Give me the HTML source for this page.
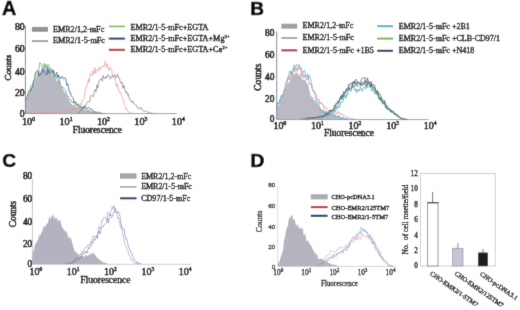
<!DOCTYPE html>
<html><head><meta charset="utf-8"><style>
html,body{margin:0;padding:0;background:#fff;width:520px;height:310px;overflow:hidden;}
svg{display:block;}
</style></head><body>
<svg width="520" height="310" viewBox="0 0 520 310">
<defs><filter id="bl" x="0" y="0" width="520" height="310" filterUnits="userSpaceOnUse"><feConvolveMatrix order="3" kernelMatrix="0.01 0.08 0.01 0.08 0.64 0.08 0.01 0.08 0.01" edgeMode="duplicate" preserveAlpha="false"/></filter></defs>
<g filter="url(#bl)">
<rect width="520" height="310" fill="#fff"/>
<text x="2.0" y="14.8" font-size="19.8" fill="#000" stroke="#000" stroke-width="0.55" font-weight="bold" font-family='"Liberation Sans", sans-serif'>A</text>
<path d="M25.4,103.1 L26.3,101.7 L27.2,98.9 L28.1,97.2 L29.0,94.6 L29.9,89.9 L30.8,87.7 L31.7,89.5 L32.6,83.0 L33.5,80.2 L34.4,83.6 L35.3,78.3 L36.2,78.2 L37.1,73.4 L38.0,73.0 L38.9,68.8 L39.8,71.3 L40.7,71.9 L41.6,68.4 L42.5,69.8 L43.4,69.1 L44.3,64.4 L45.2,69.5 L46.1,68.2 L47.0,66.5 L47.9,65.1 L48.8,72.1 L49.7,69.7 L50.6,72.1 L51.5,74.5 L52.4,74.7 L53.3,77.3 L54.2,74.4 L55.1,78.0 L56.0,76.7 L56.9,81.2 L57.8,82.1 L58.7,78.3 L59.6,79.4 L60.5,81.0 L61.4,87.6 L62.3,87.0 L63.2,90.4 L64.1,90.0 L65.0,92.4 L65.9,93.7 L66.8,95.5 L67.7,98.1 L68.6,98.9 L69.5,101.4 L70.4,101.9 L71.3,104.0 L72.2,104.4 L73.1,105.4 L74.0,105.1 L74.9,104.2 L75.8,107.0 L76.7,107.6 L77.6,107.6 L78.5,107.0 L79.4,107.8 L80.3,106.7 L81.2,108.7 L82.1,108.2 L83.0,107.7 L83.9,107.4 L84.8,109.8 L85.7,110.4 L86.6,108.7 L87.5,110.5 L88.4,109.9 L89.3,109.6 L90.2,110.3 L91.1,111.5 L92.0,112.0 L92.9,111.0 L93.8,112.1 L94.7,111.4 L95.6,112.5 L96.5,112.2 L97.4,113.0 L98.3,113.3 L99.2,112.9 L100.1,113.4 L101.0,112.9 L101.9,112.7 L102.8,113.2 L103.7,112.9 L104.6,113.1 L105.5,113.3 L106.4,113.5 L107.3,113.3 L108.2,113.4 L109.1,113.6 L110.0,113.6 L110.0,113.6 L25.4,113.6 Z" fill="#b9b9c3" stroke="none" opacity="1"/>
<path d="M25.4,101.9 L26.3,98.7 L27.2,96.6 L28.1,93.0 L29.0,90.7 L29.9,90.2 L30.8,91.0 L31.7,88.4 L32.6,86.7 L33.5,80.2 L34.4,79.4 L35.3,74.6 L36.2,72.3 L37.1,71.2 L38.0,71.2 L38.9,76.2 L39.8,74.8 L40.7,74.4 L41.6,74.1 L42.5,68.8 L43.4,69.5 L44.3,72.1 L45.2,73.2 L46.1,74.5 L47.0,74.9 L47.9,68.6 L48.8,73.0 L49.7,73.8 L50.6,72.7 L51.5,70.3 L52.4,72.8 L53.3,69.8 L54.2,76.9 L55.1,76.5 L56.0,74.1 L56.9,72.3 L57.8,77.3 L58.7,75.0 L59.6,78.2 L60.5,78.7 L61.4,76.8 L62.3,76.5 L63.2,78.8 L64.1,78.6 L65.0,77.7 L65.9,79.5 L66.8,85.4 L67.7,83.8 L68.6,87.3 L69.5,92.5 L70.4,92.5 L71.3,96.1 L72.2,97.0 L73.1,97.8 L74.0,102.8 L74.9,101.1 L75.8,103.5 L76.7,103.1 L77.6,105.2 L78.5,104.4 L79.4,105.2 L80.3,107.2 L81.2,106.1 L82.1,107.2 L83.0,108.4 L83.9,106.0 L84.8,106.1 L85.7,106.8 L86.6,108.6 L87.5,108.3 L88.4,107.3 L89.3,108.1 L90.2,108.3 L91.1,109.6 L92.0,108.9 L92.9,110.7 L93.8,111.5 L94.7,112.0 L95.6,112.0 L96.5,112.7 L97.4,111.7 L98.3,112.2 L99.2,113.2 L100.1,113.1 L101.0,112.9 L101.9,113.5 L102.8,113.4 L103.7,113.6 L104.6,113.5 L105.0,113.6" fill="none" stroke="#3d4f9a" stroke-width="0.8" stroke-linejoin="round" opacity="1"/>
<path d="M25.4,101.5 L26.3,100.2 L27.2,97.9 L28.1,97.0 L29.0,94.4 L29.9,93.0 L30.8,85.6 L31.7,86.2 L32.6,87.4 L33.5,82.8 L34.4,81.1 L35.3,72.8 L36.2,73.6 L37.1,70.4 L38.0,70.3 L38.9,68.4 L39.8,62.5 L40.7,63.7 L41.6,64.1 L42.5,68.9 L43.4,67.6 L44.3,63.0 L45.2,68.4 L46.1,64.1 L47.0,68.4 L47.9,65.1 L48.8,64.7 L49.7,72.0 L50.6,67.9 L51.5,68.7 L52.4,74.7 L53.3,74.5 L54.2,71.1 L55.1,76.4 L56.0,75.0 L56.9,78.2 L57.8,76.8 L58.7,82.7 L59.6,82.6 L60.5,86.2 L61.4,87.8 L62.3,86.3 L63.2,88.3 L64.1,88.3 L65.0,89.3 L65.9,90.5 L66.8,93.6 L67.7,97.0 L68.6,96.0 L69.5,100.2 L70.4,99.5 L71.3,100.1 L72.2,102.9 L73.1,102.5 L74.0,102.9 L74.9,104.3 L75.8,105.6 L76.7,103.8 L77.6,107.1 L78.5,104.6 L79.4,107.4 L80.3,108.2 L81.2,106.4 L82.1,109.0 L83.0,108.3 L83.9,109.2 L84.8,108.0 L85.7,108.4 L86.6,109.2 L87.5,111.2 L88.4,110.1 L89.3,111.6 L90.2,112.2 L91.1,112.5 L92.0,111.8 L92.9,111.9 L93.8,112.3 L94.7,112.8 L95.6,112.2 L96.5,113.1 L97.4,113.3 L98.3,113.4 L99.2,113.0 L100.0,113.6" fill="none" stroke="#6fae7a" stroke-width="0.8" stroke-linejoin="round" opacity="1"/>
<path d="M25.4,113.4 L26.3,113.5 L27.2,113.2 L28.1,112.9 L29.0,112.7 L29.9,113.3 L30.8,113.1 L31.7,113.3 L32.6,112.9 L33.5,113.3 L34.4,112.8 L35.3,113.3 L36.2,113.2 L37.1,112.9 L38.0,113.0 L38.9,113.1 L39.8,112.5 L40.7,112.9 L41.6,113.1 L42.5,112.5 L43.4,113.1 L44.3,112.9 L45.2,113.1 L46.1,112.5 L47.0,112.1 L47.9,113.0 L48.8,112.9 L49.7,112.4 L50.6,111.8 L51.5,111.9 L52.4,112.5 L53.3,112.0 L54.2,112.9 L55.1,112.3 L56.0,111.7 L56.9,112.3 L57.8,111.7 L58.7,112.6 L59.6,112.5 L60.5,111.8 L61.4,111.8 L62.3,111.7 L63.2,111.7 L64.1,111.9 L65.0,109.6 L65.9,110.2 L66.8,110.7 L67.7,109.9 L68.6,110.4 L69.5,109.1 L70.4,110.9 L71.3,109.9 L72.2,108.8 L73.1,110.0 L74.0,108.9 L74.9,108.4 L75.8,108.9 L76.7,107.7 L77.6,107.7 L78.5,109.2 L79.4,107.4 L80.3,103.4 L81.2,104.9 L82.1,100.8 L83.0,99.4 L83.9,98.6 L84.8,93.2 L85.7,88.4 L86.6,87.0 L87.5,84.1 L88.4,78.8 L89.3,82.3 L90.2,73.3 L91.1,74.8 L92.0,75.5 L92.9,70.7 L93.8,74.3 L94.7,67.5 L95.6,73.2 L96.5,71.7 L97.4,69.2 L98.3,70.8 L99.2,66.7 L100.1,69.6 L101.0,68.9 L101.9,66.2 L102.8,65.4 L103.7,67.0 L104.6,63.8 L105.5,61.0 L106.4,67.6 L107.3,64.1 L108.2,66.6 L109.1,70.8 L110.0,67.6 L110.9,67.9 L111.8,70.2 L112.7,76.2 L113.6,76.4 L114.5,77.0 L115.4,80.8 L116.3,86.7 L117.2,83.6 L118.1,86.7 L119.0,92.3 L119.9,92.5 L120.8,92.2 L121.7,96.0 L122.6,98.3 L123.5,99.8 L124.4,104.7 L125.3,106.0 L126.2,109.4 L127.1,109.2 L128.0,111.1 L128.9,112.9 L129.8,113.4 L130.7,113.0 L131.6,113.3 L132.5,113.3 L133.4,113.5 L134.0,113.6" fill="none" stroke="#f09090" stroke-width="0.7" stroke-linejoin="round" opacity="1"/>
<path d="M78.0,112.8 L78.9,112.0 L79.8,112.0 L80.7,109.9 L81.6,110.0 L82.5,108.6 L83.4,107.0 L84.3,107.8 L85.2,105.2 L86.1,105.1 L87.0,102.3 L87.9,101.4 L88.8,101.6 L89.7,101.7 L90.6,96.3 L91.5,95.1 L92.4,96.3 L93.3,96.6 L94.2,92.5 L95.1,89.6 L96.0,92.0 L96.9,84.8 L97.8,88.4 L98.7,82.5 L99.6,79.9 L100.5,78.8 L101.4,78.8 L102.3,81.1 L103.2,75.5 L104.1,78.5 L105.0,78.7 L105.9,76.5 L106.8,78.1 L107.7,74.8 L108.6,75.1 L109.5,76.1 L110.4,79.2 L111.3,76.7 L112.2,75.5 L113.1,77.3 L114.0,75.9 L114.9,74.3 L115.8,77.9 L116.7,77.3 L117.6,74.3 L118.5,77.4 L119.4,77.7 L120.3,82.2 L121.2,83.4 L122.1,82.0 L123.0,88.3 L123.9,85.1 L124.8,89.3 L125.7,92.7 L126.6,91.3 L127.5,95.2 L128.4,93.8 L129.3,98.3 L130.2,100.2 L131.1,100.4 L132.0,102.5 L132.9,100.9 L133.8,103.6 L134.7,104.1 L135.6,104.7 L136.5,105.1 L137.4,107.6 L138.3,108.8 L139.2,107.8 L140.1,108.7 L141.0,107.5 L141.9,109.8 L142.8,110.2 L143.7,111.4 L144.6,111.3 L145.5,110.5 L146.4,111.2 L147.3,112.2 L148.2,111.9 L149.1,112.9 L150.0,113.1 L150.9,113.1 L151.8,113.1 L152.7,113.6 L153.6,113.3 L154.5,113.5 L155.4,113.6 L156.0,113.6" fill="none" stroke="#747482" stroke-width="0.7" stroke-linejoin="round" opacity="1"/>
<line x1="25.4" y1="25.8" x2="25.4" y2="113.6" stroke="#666" stroke-width="0.8" />
<line x1="25.4" y1="113.6" x2="176.5" y2="113.6" stroke="#888" stroke-width="0.8" />
<text x="24.5" y="29.663999999999998" font-size="9.6" text-anchor="end" fill="#000" stroke="#000" stroke-width="0.62" font-family='"Liberation Serif", serif'>80</text>
<text x="24.5" y="52.264" font-size="9.6" text-anchor="end" fill="#000" stroke="#000" stroke-width="0.62" font-family='"Liberation Serif", serif'>60</text>
<text x="24.5" y="74.664" font-size="9.6" text-anchor="end" fill="#000" stroke="#000" stroke-width="0.62" font-family='"Liberation Serif", serif'>40</text>
<text x="24.5" y="96.264" font-size="9.6" text-anchor="end" fill="#000" stroke="#000" stroke-width="0.62" font-family='"Liberation Serif", serif'>20</text>
<text x="24.5" y="116.964" font-size="9.6" text-anchor="end" fill="#000" stroke="#000" stroke-width="0.62" font-family='"Liberation Serif", serif'>0</text>
<text x="22.0" y="124.6" font-size="10.2" fill="#000" stroke="#000" stroke-width="0.55" font-family='"Liberation Serif", serif'>10<tspan font-size="5.6" dy="-3.9">0</tspan></text>
<text x="59.45" y="124.6" font-size="10.2" fill="#000" stroke="#000" stroke-width="0.55" font-family='"Liberation Serif", serif'>10<tspan font-size="5.6" dy="-3.9">1</tspan></text>
<text x="96.9" y="124.6" font-size="10.2" fill="#000" stroke="#000" stroke-width="0.55" font-family='"Liberation Serif", serif'>10<tspan font-size="5.6" dy="-3.9">2</tspan></text>
<text x="134.35000000000002" y="124.6" font-size="10.2" fill="#000" stroke="#000" stroke-width="0.55" font-family='"Liberation Serif", serif'>10<tspan font-size="5.6" dy="-3.9">3</tspan></text>
<text x="171.8" y="124.6" font-size="10.2" fill="#000" stroke="#000" stroke-width="0.55" font-family='"Liberation Serif", serif'>10<tspan font-size="5.6" dy="-3.9">4</tspan></text>
<text x="97.3" y="132.8" font-size="9.3" text-anchor="middle" fill="#000" stroke="#000" stroke-width="0.50" font-family='"Liberation Serif", serif'>Fluorescence</text>
<text x="0" y="0" font-size="9.2" text-anchor="middle" fill="#000" stroke="#000" stroke-width="0.55" font-family='"Liberation Serif", serif' transform="translate(11.2,67.6) rotate(-90)">Counts</text>
<rect x="31.90" y="26.90" width="16.10" height="4.90" fill="#939399" stroke="none" stroke-width="0"/>
<line x1="31.9" y1="41.1" x2="48" y2="41.1" stroke="#8c8c90" stroke-width="1.6" />
<text x="53" y="31.9" font-size="8.15" fill="#000" stroke="#000" stroke-width="0.37" font-family='"Liberation Serif", serif'>EMR2/1,2-mFc</text>
<text x="53" y="43.3" font-size="8.15" fill="#000" stroke="#000" stroke-width="0.37" font-family='"Liberation Serif", serif'>EMR2/1-5-mFc</text>
<line x1="108.8" y1="26.4" x2="125" y2="26.4" stroke="#72bb46" stroke-width="1.6" />
<line x1="108.8" y1="38.6" x2="125" y2="38.6" stroke="#1b3876" stroke-width="2" />
<line x1="108.8" y1="49.8" x2="125" y2="49.8" stroke="#c81e34" stroke-width="2" />
<text x="130.4" y="29.5" font-size="8.2" fill="#000" stroke="#000" stroke-width="0.37" font-family='"Liberation Serif", serif'>EMR2/1-5-mFc+EGTA</text>
<text x="130.4" y="41" font-size="8.2" fill="#000" stroke="#000" stroke-width="0.37" font-family='"Liberation Serif", serif'>EMR2/1-5-mFc+EGTA+Mg<tspan font-size="5" dy="-3">2+</tspan></text>
<text x="130.4" y="52.3" font-size="8.2" fill="#000" stroke="#000" stroke-width="0.37" font-family='"Liberation Serif", serif'>EMR2/1-5-mFc+EGTA+Ca<tspan font-size="5" dy="-3">2+</tspan></text>
<text x="250.3" y="15.2" font-size="19.0" fill="#000" stroke="#000" stroke-width="0.55" font-weight="bold" font-family='"Liberation Sans", sans-serif'>B</text>
<path d="M276.7,106.0 L277.6,106.7 L278.5,105.4 L279.4,105.0 L280.3,99.7 L281.2,98.4 L282.1,95.6 L283.0,93.4 L283.9,94.7 L284.8,88.6 L285.7,88.7 L286.6,85.2 L287.5,83.5 L288.4,81.9 L289.3,82.8 L290.2,79.8 L291.1,73.0 L292.0,72.6 L292.9,70.6 L293.8,75.4 L294.7,73.9 L295.6,73.0 L296.5,72.5 L297.4,72.4 L298.3,75.2 L299.2,75.2 L300.1,72.0 L301.0,78.0 L301.9,77.2 L302.8,80.4 L303.7,79.8 L304.6,79.8 L305.5,80.2 L306.4,82.5 L307.3,83.8 L308.2,84.1 L309.1,90.1 L310.0,92.6 L310.9,96.4 L311.8,96.4 L312.7,97.2 L313.6,100.5 L314.5,99.5 L315.4,103.0 L316.3,103.1 L317.2,103.3 L318.1,104.5 L319.0,106.5 L319.9,106.5 L320.8,108.4 L321.7,109.7 L322.6,109.3 L323.5,108.9 L324.4,110.7 L325.3,110.5 L326.2,111.0 L327.1,111.1 L328.0,111.9 L328.9,111.4 L329.8,113.4 L330.7,114.6 L331.6,113.3 L332.5,114.3 L333.4,115.1 L334.3,113.0 L335.2,113.5 L336.1,115.5 L337.0,115.8 L337.9,115.5 L338.8,114.6 L339.7,115.4 L340.6,116.7 L341.5,117.1 L342.4,117.3 L343.3,116.7 L344.2,118.1 L345.1,117.6 L346.0,118.2 L346.9,117.6 L347.8,118.9 L348.7,118.7 L349.6,119.0 L350.5,118.8 L351.4,119.3 L352.3,119.4 L353.2,119.4 L354.1,119.4 L355.0,119.6 L355.9,119.6 L356.0,119.6 L356.0,119.6 L276.7,119.6 Z" fill="#bbbac4" stroke="none" opacity="1"/>
<path d="M276.7,104.4 L277.6,105.4 L278.5,103.4 L279.4,103.6 L280.3,98.4 L281.2,96.0 L282.1,97.1 L283.0,94.6 L283.9,89.5 L284.8,89.5 L285.7,85.7 L286.6,85.0 L287.5,77.4 L288.4,76.6 L289.3,80.0 L290.2,74.0 L291.1,71.4 L292.0,74.4 L292.9,72.7 L293.8,68.6 L294.7,71.2 L295.6,71.7 L296.5,67.4 L297.4,71.4 L298.3,67.5 L299.2,69.5 L300.1,67.8 L301.0,69.6 L301.9,76.7 L302.8,73.2 L303.7,78.1 L304.6,74.9 L305.5,77.2 L306.4,79.9 L307.3,79.3 L308.2,76.7 L309.1,82.2 L310.0,84.7 L310.9,83.6 L311.8,84.3 L312.7,90.9 L313.6,90.9 L314.5,91.0 L315.4,93.7 L316.3,94.3 L317.2,99.6 L318.1,99.8 L319.0,98.9 L319.9,103.8 L320.8,102.2 L321.7,104.2 L322.6,103.7 L323.5,107.4 L324.4,105.9 L325.3,108.4 L326.2,107.6 L327.1,109.4 L328.0,110.4 L328.9,110.2 L329.8,110.3 L330.7,110.7 L331.6,110.8 L332.5,111.4 L333.4,110.0 L334.3,111.5 L335.2,111.1 L336.1,113.3 L337.0,113.8 L337.9,111.4 L338.8,111.8 L339.7,113.8 L340.6,114.0 L341.5,113.1 L342.4,115.1 L343.3,116.1 L344.2,115.4 L345.1,115.8 L346.0,116.8 L346.9,117.8 L347.8,116.8 L348.7,117.3 L349.6,117.6 L350.5,118.6 L351.4,118.8 L352.3,118.8 L353.2,119.1 L354.1,119.0 L355.0,119.4 L355.9,119.6 L356.0,119.6" fill="none" stroke="#e58a8a" stroke-width="0.8" stroke-linejoin="round" opacity="1"/>
<path d="M276.7,107.9 L277.6,102.4 L278.5,104.1 L279.4,99.7 L280.3,101.6 L281.2,95.2 L282.1,97.4 L283.0,93.4 L283.9,92.3 L284.8,91.2 L285.7,83.0 L286.6,80.7 L287.5,81.5 L288.4,75.7 L289.3,72.7 L290.2,70.7 L291.1,74.0 L292.0,72.1 L292.9,70.0 L293.8,64.9 L294.7,69.9 L295.6,66.1 L296.5,64.1 L297.4,66.4 L298.3,66.6 L299.2,64.2 L300.1,68.5 L301.0,67.4 L301.9,69.6 L302.8,72.8 L303.7,71.1 L304.6,70.3 L305.5,74.9 L306.4,76.9 L307.3,73.8 L308.2,79.2 L309.1,74.9 L310.0,77.5 L310.9,79.9 L311.8,88.2 L312.7,89.7 L313.6,91.7 L314.5,92.2 L315.4,97.5 L316.3,102.8 L317.2,100.7 L318.1,102.9 L319.0,105.1 L319.9,108.4 L320.8,110.6 L321.7,110.8 L322.6,111.6 L323.5,112.8 L324.4,112.1 L325.3,114.6 L326.2,113.3 L327.1,113.4 L328.0,113.9 L328.9,115.4 L329.8,114.3 L330.7,116.1 L331.6,115.1 L332.5,115.7 L333.4,115.2 L334.3,117.2 L335.2,117.1 L336.1,116.7 L337.0,116.3 L337.9,117.3 L338.8,117.4 L339.7,118.4 L340.6,118.8 L341.5,118.7 L342.4,118.3 L343.3,118.1 L344.2,119.2 L345.1,119.3 L346.0,118.8 L346.9,119.2 L347.8,119.3 L348.7,119.6 L349.6,119.5 L350.0,119.6" fill="none" stroke="#5cb6d3" stroke-width="0.8" stroke-linejoin="round" opacity="1"/>
<path d="M300.0,119.3 L300.9,119.3 L301.8,119.2 L302.7,119.0 L303.6,118.9 L304.5,118.9 L305.4,118.4 L306.3,118.6 L307.2,117.7 L308.1,117.9 L309.0,117.9 L309.9,117.5 L310.8,118.3 L311.7,117.6 L312.6,118.3 L313.5,118.4 L314.4,117.3 L315.3,118.2 L316.2,118.0 L317.1,117.7 L318.0,116.5 L318.9,117.1 L319.8,117.3 L320.7,116.7 L321.6,116.5 L322.5,116.3 L323.4,115.6 L324.3,116.1 L325.2,114.5 L326.1,114.3 L327.0,114.4 L327.9,114.6 L328.8,111.9 L329.7,110.2 L330.6,112.5 L331.5,111.6 L332.4,110.8 L333.3,108.7 L334.2,106.2 L335.1,104.3 L336.0,103.6 L336.9,103.4 L337.8,100.7 L338.7,102.4 L339.6,101.0 L340.5,95.9 L341.4,99.0 L342.3,96.4 L343.2,97.5 L344.1,93.3 L345.0,93.4 L345.9,89.9 L346.8,89.9 L347.7,88.4 L348.6,84.3 L349.5,84.0 L350.4,83.9 L351.3,83.9 L352.2,82.2 L353.1,82.2 L354.0,82.6 L354.9,80.3 L355.8,79.2 L356.7,80.1 L357.6,83.5 L358.5,82.9 L359.4,82.5 L360.3,83.9 L361.2,79.6 L362.1,78.4 L363.0,78.1 L363.9,78.2 L364.8,77.1 L365.7,81.1 L366.6,83.0 L367.5,77.7 L368.4,82.5 L369.3,85.1 L370.2,84.4 L371.1,81.2 L372.0,85.8 L372.9,84.6 L373.8,84.9 L374.7,85.2 L375.6,90.1 L376.5,93.9 L377.4,90.0 L378.3,91.7 L379.2,94.8 L380.1,94.2 L381.0,97.4 L381.9,100.4 L382.8,100.7 L383.7,99.8 L384.6,101.1 L385.5,103.7 L386.4,107.2 L387.3,108.9 L388.2,108.3 L389.1,108.0 L390.0,109.3 L390.9,110.5 L391.8,110.3 L392.7,111.2 L393.6,112.6 L394.5,114.4 L395.4,113.6 L396.3,116.0 L397.2,116.3 L398.1,116.0 L399.0,116.5 L399.9,117.2 L400.8,118.2 L401.7,118.7 L402.6,119.1 L403.5,118.7 L404.4,119.0 L405.3,118.9 L406.2,119.3 L407.1,119.4 L408.0,119.6 L408.0,119.6" fill="none" stroke="#5d6470" stroke-width="0.8" stroke-linejoin="round" opacity="1"/>
<path d="M318.0,119.4 L318.9,119.4 L319.8,119.3 L320.7,118.3 L321.6,118.5 L322.5,118.1 L323.4,117.7 L324.3,116.5 L325.2,116.1 L326.1,116.3 L327.0,116.6 L327.9,114.9 L328.8,114.8 L329.7,113.7 L330.6,114.5 L331.5,114.4 L332.4,112.5 L333.3,113.6 L334.2,109.8 L335.1,111.3 L336.0,110.5 L336.9,106.8 L337.8,108.2 L338.7,107.0 L339.6,107.4 L340.5,102.2 L341.4,101.9 L342.3,102.6 L343.2,100.3 L344.1,97.2 L345.0,94.8 L345.9,98.4 L346.8,94.0 L347.7,94.8 L348.6,87.7 L349.5,90.5 L350.4,90.5 L351.3,91.1 L352.2,85.5 L353.1,87.7 L354.0,85.9 L354.9,90.7 L355.8,88.8 L356.7,92.9 L357.6,89.0 L358.5,91.0 L359.4,91.0 L360.3,86.9 L361.2,88.9 L362.1,91.4 L363.0,88.7 L363.9,87.5 L364.8,86.4 L365.7,89.1 L366.6,84.9 L367.5,87.5 L368.4,87.2 L369.3,87.1 L370.2,84.4 L371.1,88.5 L372.0,91.2 L372.9,88.5 L373.8,89.3 L374.7,94.0 L375.6,93.8 L376.5,93.5 L377.4,93.0 L378.3,98.5 L379.2,98.0 L380.1,99.9 L381.0,99.7 L381.9,102.6 L382.8,104.2 L383.7,102.9 L384.6,102.8 L385.5,107.8 L386.4,108.3 L387.3,105.4 L388.2,108.5 L389.1,110.1 L390.0,109.9 L390.9,111.5 L391.8,113.0 L392.7,112.6 L393.6,112.5 L394.5,112.6 L395.4,113.7 L396.3,114.2 L397.2,114.6 L398.1,115.6 L399.0,117.6 L399.9,117.7 L400.8,118.4 L401.7,118.8 L402.6,119.0 L403.5,118.6 L404.4,119.4 L405.3,118.9 L406.2,119.5 L407.1,119.6 L408.0,119.6 L408.0,119.6" fill="none" stroke="#4aa9c4" stroke-width="0.8" stroke-linejoin="round" opacity="1"/>
<path d="M318.0,119.2 L318.9,119.3 L319.8,118.6 L320.7,118.0 L321.6,117.9 L322.5,117.4 L323.4,117.0 L324.3,116.6 L325.2,116.0 L326.1,115.5 L327.0,115.9 L327.9,114.3 L328.8,114.5 L329.7,114.1 L330.6,113.7 L331.5,113.5 L332.4,110.9 L333.3,109.9 L334.2,110.3 L335.1,108.4 L336.0,105.7 L336.9,106.8 L337.8,106.6 L338.7,104.7 L339.6,99.8 L340.5,98.6 L341.4,96.1 L342.3,99.8 L343.2,94.1 L344.1,95.3 L345.0,93.2 L345.9,92.7 L346.8,91.0 L347.7,91.4 L348.6,88.9 L349.5,86.5 L350.4,84.6 L351.3,86.1 L352.2,88.2 L353.1,82.7 L354.0,86.4 L354.9,86.3 L355.8,83.5 L356.7,84.1 L357.6,87.1 L358.5,85.2 L359.4,84.8 L360.3,85.0 L361.2,82.3 L362.1,86.1 L363.0,85.1 L363.9,84.5 L364.8,83.0 L365.7,86.2 L366.6,86.5 L367.5,85.0 L368.4,82.2 L369.3,82.8 L370.2,83.5 L371.1,83.9 L372.0,88.3 L372.9,88.2 L373.8,86.9 L374.7,92.5 L375.6,92.2 L376.5,94.3 L377.4,95.3 L378.3,96.0 L379.2,97.0 L380.1,100.8 L381.0,97.4 L381.9,101.6 L382.8,103.9 L383.7,102.8 L384.6,105.4 L385.5,104.1 L386.4,106.2 L387.3,106.4 L388.2,107.9 L389.1,110.1 L390.0,109.0 L390.9,110.2 L391.8,112.6 L392.7,111.7 L393.6,111.8 L394.5,114.8 L395.4,114.4 L396.3,113.9 L397.2,115.7 L398.1,115.4 L399.0,116.4 L399.9,118.0 L400.8,118.2 L401.7,118.2 L402.6,118.7 L403.5,119.0 L404.4,119.0 L405.3,118.9 L406.2,119.5 L407.1,119.6 L408.0,119.6 L408.0,119.6" fill="none" stroke="#74ad83" stroke-width="0.8" stroke-linejoin="round" opacity="1"/>
<path d="M305.0,119.3 L305.9,119.4 L306.8,119.1 L307.7,118.9 L308.6,118.7 L309.5,119.2 L310.4,118.3 L311.3,118.0 L312.2,118.0 L313.1,117.8 L314.0,117.8 L314.9,117.7 L315.8,117.3 L316.7,117.4 L317.6,117.2 L318.5,117.4 L319.4,116.5 L320.3,116.0 L321.2,116.0 L322.1,116.6 L323.0,115.9 L323.9,116.1 L324.8,115.6 L325.7,114.0 L326.6,112.5 L327.5,113.8 L328.4,113.6 L329.3,111.9 L330.2,111.9 L331.1,109.7 L332.0,110.9 L332.9,109.9 L333.8,109.2 L334.7,109.1 L335.6,105.0 L336.5,104.7 L337.4,104.0 L338.3,103.1 L339.2,100.3 L340.1,98.0 L341.0,99.0 L341.9,94.7 L342.8,96.4 L343.7,91.5 L344.6,93.2 L345.5,92.2 L346.4,88.6 L347.3,89.5 L348.2,88.9 L349.1,87.3 L350.0,89.5 L350.9,88.3 L351.8,87.7 L352.7,83.2 L353.6,81.5 L354.5,83.5 L355.4,81.5 L356.3,85.4 L357.2,82.5 L358.1,81.8 L359.0,83.0 L359.9,83.9 L360.8,85.9 L361.7,83.8 L362.6,82.5 L363.5,84.8 L364.4,80.5 L365.3,81.7 L366.2,85.0 L367.1,85.6 L368.0,81.3 L368.9,81.6 L369.8,85.3 L370.7,87.2 L371.6,83.7 L372.5,87.0 L373.4,87.2 L374.3,87.5 L375.2,89.3 L376.1,90.8 L377.0,92.9 L377.9,92.4 L378.8,96.8 L379.7,99.3 L380.6,99.1 L381.5,97.4 L382.4,101.9 L383.3,103.0 L384.2,101.0 L385.1,104.1 L386.0,106.7 L386.9,108.7 L387.8,109.4 L388.7,109.2 L389.6,110.3 L390.5,112.0 L391.4,110.2 L392.3,112.0 L393.2,111.4 L394.1,113.9 L395.0,114.3 L395.9,114.0 L396.8,114.6 L397.7,115.9 L398.6,117.1 L399.5,116.8 L400.4,117.6 L401.3,118.2 L402.2,118.3 L403.1,119.2 L404.0,119.2 L404.9,119.5 L405.8,119.4 L406.7,119.5 L407.6,119.5 L408.0,119.6" fill="none" stroke="#2c4a70" stroke-width="0.7" stroke-linejoin="round" opacity="1"/>
<line x1="276.7" y1="31.4" x2="276.7" y2="119.6" stroke="#667" stroke-width="0.8" />
<line x1="276.7" y1="119.6" x2="428.5" y2="119.6" stroke="#888" stroke-width="0.8" />
<text x="274.4" y="36.162" font-size="9.3" text-anchor="end" fill="#000" stroke="#000" stroke-width="0.62" font-family='"Liberation Serif", serif'>80</text>
<text x="274.4" y="57.862" font-size="9.3" text-anchor="end" fill="#000" stroke="#000" stroke-width="0.62" font-family='"Liberation Serif", serif'>60</text>
<text x="274.4" y="80.06200000000001" font-size="9.3" text-anchor="end" fill="#000" stroke="#000" stroke-width="0.62" font-family='"Liberation Serif", serif'>40</text>
<text x="274.4" y="102.06200000000001" font-size="9.3" text-anchor="end" fill="#000" stroke="#000" stroke-width="0.62" font-family='"Liberation Serif", serif'>20</text>
<text x="274.4" y="122.36200000000001" font-size="9.3" text-anchor="end" fill="#000" stroke="#000" stroke-width="0.62" font-family='"Liberation Serif", serif'>0</text>
<text x="273.4" y="128.8" font-size="10.0" fill="#000" stroke="#000" stroke-width="0.55" font-family='"Liberation Serif", serif'>10<tspan font-size="5.5" dy="-3.8">0</tspan></text>
<text x="311.0" y="128.8" font-size="10.0" fill="#000" stroke="#000" stroke-width="0.55" font-family='"Liberation Serif", serif'>10<tspan font-size="5.5" dy="-3.8">1</tspan></text>
<text x="348.59999999999997" y="128.8" font-size="10.0" fill="#000" stroke="#000" stroke-width="0.55" font-family='"Liberation Serif", serif'>10<tspan font-size="5.5" dy="-3.8">2</tspan></text>
<text x="386.2" y="128.8" font-size="10.0" fill="#000" stroke="#000" stroke-width="0.55" font-family='"Liberation Serif", serif'>10<tspan font-size="5.5" dy="-3.8">3</tspan></text>
<text x="423.79999999999995" y="128.8" font-size="10.0" fill="#000" stroke="#000" stroke-width="0.55" font-family='"Liberation Serif", serif'>10<tspan font-size="5.5" dy="-3.8">4</tspan></text>
<text x="349" y="135.9" font-size="9.5" text-anchor="middle" fill="#000" stroke="#000" stroke-width="0.50" font-family='"Liberation Serif", serif'>Fluorescence</text>
<text x="0" y="0" font-size="9.6" text-anchor="middle" fill="#000" stroke="#000" stroke-width="0.55" font-family='"Liberation Serif", serif' transform="translate(261.2,77.2) rotate(-90)">Counts</text>
<rect x="281.30" y="23.70" width="16.00" height="5.00" fill="#a0a0a6" stroke="none" stroke-width="0"/>
<line x1="281.3" y1="38.0" x2="297.3" y2="38.0" stroke="#96969c" stroke-width="1.6" />
<line x1="281.3" y1="50.3" x2="297.3" y2="50.3" stroke="#c81e34" stroke-width="2" />
<text x="302.5" y="28.4" font-size="8.05" fill="#000" stroke="#000" stroke-width="0.36" font-family='"Liberation Serif", serif'>EMR2/1,2-mFc</text>
<text x="302.5" y="40.4" font-size="8.05" fill="#000" stroke="#000" stroke-width="0.36" font-family='"Liberation Serif", serif'>EMR2/1-5-mFc</text>
<text x="302.5" y="52.6" font-size="8.05" fill="#000" stroke="#000" stroke-width="0.36" font-family='"Liberation Serif", serif'>EMR2/1-5-mFc +1B5</text>
<line x1="377.2" y1="26.2" x2="393" y2="26.2" stroke="#4fb2d6" stroke-width="2" />
<line x1="377.2" y1="38.6" x2="393" y2="38.6" stroke="#7bb35e" stroke-width="2" />
<line x1="377.2" y1="50.8" x2="393" y2="50.8" stroke="#18345c" stroke-width="2" />
<text x="398.8" y="28.8" font-size="8.0" fill="#000" stroke="#000" stroke-width="0.36" font-family='"Liberation Serif", serif'>EMR2/1-5-mFc +2B1</text>
<text x="398.8" y="41.2" font-size="8.0" fill="#000" stroke="#000" stroke-width="0.36" font-family='"Liberation Serif", serif'>EMR2/1-5-mFc +CLB-CD97/1</text>
<text x="398.8" y="53.4" font-size="8.0" fill="#000" stroke="#000" stroke-width="0.36" font-family='"Liberation Serif", serif'>EMR2/1-5-mFc +N418</text>
<text x="2.2" y="167.1" font-size="19.2" fill="#000" stroke="#000" stroke-width="0.55" font-weight="bold" font-family='"Liberation Sans", sans-serif'>C</text>
<path d="M32.4,253.7 L33.3,251.5 L34.2,248.9 L35.1,243.6 L36.0,243.9 L36.9,241.0 L37.8,240.4 L38.7,236.6 L39.6,235.0 L40.5,235.1 L41.4,232.2 L42.3,231.4 L43.2,227.2 L44.1,225.4 L45.0,228.1 L45.9,224.7 L46.8,223.4 L47.7,223.5 L48.6,219.7 L49.5,215.7 L50.4,219.4 L51.3,216.7 L52.2,215.2 L53.1,214.3 L54.0,219.6 L54.9,216.1 L55.8,219.8 L56.7,217.6 L57.6,219.7 L58.5,221.2 L59.4,220.2 L60.3,219.9 L61.2,223.7 L62.1,227.2 L63.0,228.6 L63.9,229.3 L64.8,231.7 L65.7,230.5 L66.6,232.3 L67.5,234.3 L68.4,238.5 L69.3,236.7 L70.2,237.8 L71.1,239.1 L72.0,241.6 L72.9,245.4 L73.8,248.2 L74.7,251.4 L75.6,251.4 L76.5,252.6 L77.4,253.3 L78.3,254.5 L79.2,256.6 L80.1,256.0 L81.0,255.4 L81.9,255.0 L82.8,256.9 L83.7,256.4 L84.6,256.7 L85.5,254.5 L86.4,255.2 L87.3,256.3 L88.2,254.8 L89.1,255.5 L90.0,252.3 L90.9,255.4 L91.8,252.4 L92.7,253.9 L93.6,252.2 L94.5,254.7 L95.4,254.7 L96.3,257.2 L97.2,257.4 L98.1,258.7 L99.0,258.6 L99.9,260.4 L100.8,260.6 L101.7,260.8 L102.6,262.7 L103.5,262.1 L104.4,262.4 L105.3,262.7 L106.2,263.3 L107.1,263.4 L108.0,264.2 L108.9,264.3 L109.4,264.3 L109.4,264.3 L32.4,264.3 Z" fill="#b2b2c0" stroke="none" opacity="1"/>
<path d="M62.0,264.3 L62.9,264.3 L63.8,263.7 L64.7,264.1 L65.6,263.1 L66.5,263.4 L67.4,262.6 L68.3,263.3 L69.2,262.2 L70.1,262.6 L71.0,262.3 L71.9,262.0 L72.8,261.1 L73.7,261.6 L74.6,261.2 L75.5,258.1 L76.4,258.0 L77.3,258.3 L78.2,256.8 L79.1,255.3 L80.0,254.1 L80.9,255.4 L81.8,251.0 L82.7,252.5 L83.6,252.0 L84.5,248.5 L85.4,248.4 L86.3,247.0 L87.2,246.7 L88.1,244.4 L89.0,245.9 L89.9,245.3 L90.8,241.3 L91.7,243.1 L92.6,237.0 L93.5,235.6 L94.4,237.7 L95.3,237.6 L96.2,236.2 L97.1,235.2 L98.0,232.2 L98.9,226.6 L99.8,228.8 L100.7,228.5 L101.6,220.6 L102.5,221.6 L103.4,217.7 L104.3,216.8 L105.2,218.1 L106.1,218.2 L107.0,219.3 L107.9,211.9 L108.8,213.5 L109.7,215.7 L110.6,212.2 L111.5,209.6 L112.4,206.5 L113.3,209.0 L114.2,205.5 L115.1,210.5 L116.0,212.5 L116.9,212.3 L117.8,218.8 L118.7,218.0 L119.6,222.2 L120.5,227.8 L121.4,227.1 L122.3,230.9 L123.2,236.0 L124.1,239.7 L125.0,245.0 L125.9,245.3 L126.8,249.3 L127.7,250.1 L128.6,254.4 L129.5,255.3 L130.4,257.4 L131.3,260.0 L132.2,259.6 L133.1,262.1 L134.0,262.2 L134.9,263.0 L135.8,262.9 L136.7,263.2 L137.6,263.4 L138.5,263.8 L139.4,264.1 L140.0,264.3" fill="none" stroke="#8c8ca0" stroke-width="0.8" stroke-linejoin="round" opacity="1" stroke-dasharray="1.6,0.7"/>
<path d="M66.0,264.2 L66.9,264.3 L67.8,264.1 L68.7,263.4 L69.6,263.8 L70.5,263.4 L71.4,262.5 L72.3,263.5 L73.2,262.0 L74.1,261.4 L75.0,260.8 L75.9,260.4 L76.8,258.7 L77.7,259.6 L78.6,259.6 L79.5,258.0 L80.4,258.0 L81.3,256.6 L82.2,256.4 L83.1,253.4 L84.0,253.5 L84.9,253.3 L85.8,251.0 L86.7,253.3 L87.6,250.8 L88.5,247.4 L89.4,248.7 L90.3,247.3 L91.2,245.1 L92.1,243.3 L93.0,242.9 L93.9,239.0 L94.8,240.2 L95.7,239.0 L96.6,235.6 L97.5,238.3 L98.4,231.5 L99.3,230.7 L100.2,233.8 L101.1,228.4 L102.0,227.6 L102.9,226.7 L103.8,224.9 L104.7,224.5 L105.6,223.5 L106.5,222.2 L107.4,218.3 L108.3,223.1 L109.2,217.8 L110.1,214.3 L111.0,215.4 L111.9,217.5 L112.8,215.1 L113.7,212.2 L114.6,211.0 L115.5,208.6 L116.4,213.0 L117.3,212.4 L118.2,211.3 L119.1,213.4 L120.0,216.1 L120.9,223.3 L121.8,226.5 L122.7,228.4 L123.6,228.5 L124.5,231.2 L125.4,238.2 L126.3,238.2 L127.2,240.8 L128.1,245.2 L129.0,247.5 L129.9,250.1 L130.8,252.3 L131.7,253.2 L132.6,255.9 L133.5,258.0 L134.4,260.0 L135.3,260.2 L136.2,261.2 L137.1,263.2 L138.0,262.4 L138.9,263.5 L139.8,263.5 L140.7,264.1 L141.6,264.3 L142.0,264.3" fill="none" stroke="#5064aa" stroke-width="0.75" stroke-linejoin="round" opacity="1" stroke-dasharray="1.6,0.7"/>
<line x1="32.4" y1="179" x2="32.4" y2="264.3" stroke="#b4b4bc" stroke-width="0.8" />
<line x1="32.4" y1="264.3" x2="191" y2="264.3" stroke="#c4c4cc" stroke-width="0.8" />
<text x="32.2" y="178.662" font-size="9.3" text-anchor="end" fill="#000" stroke="#000" stroke-width="0.55" font-family='"Liberation Serif", serif'>80</text>
<text x="32.2" y="202.162" font-size="9.3" text-anchor="end" fill="#000" stroke="#000" stroke-width="0.55" font-family='"Liberation Serif", serif'>60</text>
<text x="32.2" y="225.162" font-size="9.3" text-anchor="end" fill="#000" stroke="#000" stroke-width="0.55" font-family='"Liberation Serif", serif'>40</text>
<text x="32.2" y="246.762" font-size="9.3" text-anchor="end" fill="#000" stroke="#000" stroke-width="0.55" font-family='"Liberation Serif", serif'>20</text>
<text x="32.2" y="267.36199999999997" font-size="9.3" text-anchor="end" fill="#000" stroke="#000" stroke-width="0.55" font-family='"Liberation Serif", serif'>0</text>
<text x="29.5" y="275.1" font-size="10.0" fill="#000" stroke="#000" stroke-width="0.50" font-family='"Liberation Serif", serif'>10<tspan font-size="5.5" dy="-3.8">0</tspan></text>
<text x="66.8" y="275.1" font-size="10.0" fill="#000" stroke="#000" stroke-width="0.50" font-family='"Liberation Serif", serif'>10<tspan font-size="5.5" dy="-3.8">1</tspan></text>
<text x="104.1" y="275.1" font-size="10.0" fill="#000" stroke="#000" stroke-width="0.50" font-family='"Liberation Serif", serif'>10<tspan font-size="5.5" dy="-3.8">2</tspan></text>
<text x="141.39999999999998" y="275.1" font-size="10.0" fill="#000" stroke="#000" stroke-width="0.50" font-family='"Liberation Serif", serif'>10<tspan font-size="5.5" dy="-3.8">3</tspan></text>
<text x="178.7" y="275.1" font-size="10.0" fill="#000" stroke="#000" stroke-width="0.50" font-family='"Liberation Serif", serif'>10<tspan font-size="5.5" dy="-3.8">4</tspan></text>
<text x="105.4" y="283.4" font-size="9.5" text-anchor="middle" fill="#000" stroke="#000" stroke-width="0.40" font-family='"Liberation Serif", serif'>Fluorescence</text>
<text x="0" y="0" font-size="9.3" text-anchor="middle" fill="#000" stroke="#000" stroke-width="0.50" font-family='"Liberation Serif", serif' transform="translate(16.2,214) rotate(-90)">Counts</text>
<rect x="120.00" y="173.30" width="16.50" height="5.40" fill="#a5a5aa" stroke="none" stroke-width="0"/>
<line x1="120.0" y1="186.9" x2="136.5" y2="186.9" stroke="#a5a5aa" stroke-width="1.6" />
<line x1="120.0" y1="198.3" x2="136.5" y2="198.3" stroke="#1a3868" stroke-width="2.0" />
<text x="141.2" y="178.5" font-size="7.95" fill="#000" stroke="#000" stroke-width="0.36" font-family='"Liberation Serif", serif'>EMR2/1,2-mFc</text>
<text x="141.2" y="189.4" font-size="7.95" fill="#000" stroke="#000" stroke-width="0.36" font-family='"Liberation Serif", serif'>EMR2/1-5-mFc</text>
<text x="141.2" y="201.1" font-size="8.05" fill="#000" stroke="#000" stroke-width="0.36" font-family='"Liberation Serif", serif'>CD97/1-5-mFc</text>
<text x="250.5" y="167.4" font-size="19.2" fill="#000" stroke="#000" stroke-width="0.55" font-weight="bold" font-family='"Liberation Sans", sans-serif'>D</text>
<path d="M277.7,266.0 L278.6,261.3 L279.5,262.2 L280.4,258.1 L281.3,255.1 L282.2,253.1 L283.1,248.7 L284.0,240.1 L284.9,238.3 L285.8,231.9 L286.7,227.8 L287.6,226.8 L288.5,220.9 L289.4,217.0 L290.3,218.7 L291.2,215.2 L292.1,215.0 L293.0,218.2 L293.9,220.8 L294.8,218.9 L295.7,224.5 L296.6,226.0 L297.5,223.8 L298.4,226.8 L299.3,228.7 L300.2,227.6 L301.1,229.6 L302.0,227.5 L302.9,228.9 L303.8,236.0 L304.7,233.5 L305.6,235.3 L306.5,240.8 L307.4,241.5 L308.3,240.3 L309.2,243.3 L310.1,244.0 L311.0,245.9 L311.9,246.5 L312.8,250.0 L313.7,250.5 L314.6,252.9 L315.5,253.5 L316.4,254.0 L317.3,255.0 L318.2,259.0 L319.1,259.3 L320.0,259.0 L320.9,258.2 L321.8,258.8 L322.7,259.4 L323.6,260.4 L324.5,260.2 L325.4,261.1 L326.3,261.1 L327.2,261.4 L328.1,262.9 L329.0,262.9 L329.9,263.3 L330.8,263.6 L331.7,264.3 L332.6,265.0 L333.5,264.5 L334.4,264.3 L335.3,265.1 L336.2,265.3 L337.1,265.9 L338.0,265.7 L338.9,266.4 L339.8,266.3 L340.0,266.4 L340.0,266.4 L277.7,266.4 Z" fill="#b4b4bf" stroke="none" opacity="1"/>
<path d="M316.0,266.3 L316.9,266.0 L317.8,265.8 L318.7,265.5 L319.6,265.1 L320.5,263.9 L321.4,263.8 L322.3,261.6 L323.2,260.3 L324.1,259.0 L325.0,258.7 L325.9,256.2 L326.8,255.5 L327.7,255.7 L328.6,255.0 L329.5,253.8 L330.4,250.9 L331.3,250.5 L332.2,250.8 L333.1,251.4 L334.0,252.0 L334.9,251.5 L335.8,251.7 L336.7,250.2 L337.6,250.0 L338.5,248.2 L339.4,247.8 L340.3,247.0 L341.2,248.1 L342.1,248.1 L343.0,247.6 L343.9,246.4 L344.8,246.2 L345.7,245.1 L346.6,247.0 L347.5,245.2 L348.4,245.2 L349.3,244.8 L350.2,241.9 L351.1,240.5 L352.0,240.5 L352.9,242.6 L353.8,241.2 L354.7,238.7 L355.6,240.2 L356.5,237.7 L357.4,239.9 L358.3,235.6 L359.2,238.7 L360.1,239.7 L361.0,236.5 L361.9,236.4 L362.8,234.6 L363.7,235.7 L364.6,236.0 L365.5,236.8 L366.4,235.9 L367.3,237.4 L368.2,236.9 L369.1,239.4 L370.0,239.2 L370.9,239.2 L371.8,243.8 L372.7,241.8 L373.6,243.6 L374.5,246.9 L375.4,248.3 L376.3,250.8 L377.2,250.4 L378.1,253.1 L379.0,252.3 L379.9,256.3 L380.8,256.0 L381.7,257.3 L382.6,260.1 L383.5,261.2 L384.4,260.9 L385.3,261.7 L386.2,262.5 L387.1,264.6 L388.0,264.9 L388.9,265.2 L389.8,265.7 L390.7,265.5 L391.6,265.9 L392.5,266.2 L393.4,266.4 L394.0,266.4" fill="none" stroke="#f08b9b" stroke-width="0.8" stroke-linejoin="round" opacity="1" stroke-dasharray="1.4,0.6"/>
<path d="M318.0,266.2 L318.9,266.0 L319.8,265.5 L320.7,265.1 L321.6,263.7 L322.5,264.2 L323.4,263.1 L324.3,263.0 L325.2,262.3 L326.1,261.7 L327.0,259.1 L327.9,258.3 L328.8,258.4 L329.7,257.4 L330.6,257.6 L331.5,256.2 L332.4,257.6 L333.3,254.3 L334.2,256.2 L335.1,254.8 L336.0,253.5 L336.9,255.3 L337.8,252.9 L338.7,253.0 L339.6,252.9 L340.5,251.9 L341.4,251.7 L342.3,251.0 L343.2,253.3 L344.1,250.0 L345.0,249.9 L345.9,248.9 L346.8,250.5 L347.7,247.5 L348.6,247.5 L349.5,246.2 L350.4,242.8 L351.3,241.1 L352.2,239.2 L353.1,236.7 L354.0,236.8 L354.9,237.9 L355.8,234.8 L356.7,235.3 L357.6,235.1 L358.5,234.0 L359.4,232.6 L360.3,231.0 L361.2,227.3 L362.1,227.9 L363.0,230.7 L363.9,229.4 L364.8,232.2 L365.7,231.0 L366.6,233.5 L367.5,232.5 L368.4,236.7 L369.3,237.7 L370.2,234.3 L371.1,239.1 L372.0,238.0 L372.9,243.5 L373.8,240.9 L374.7,242.7 L375.6,248.3 L376.5,248.8 L377.4,247.6 L378.3,251.5 L379.2,255.0 L380.1,254.5 L381.0,257.3 L381.9,257.5 L382.8,259.6 L383.7,260.7 L384.6,260.5 L385.5,262.0 L386.4,263.2 L387.3,264.3 L388.2,265.0 L389.1,265.3 L390.0,265.8 L390.9,265.7 L391.8,266.3 L392.7,266.1 L393.6,266.4 L394.0,266.4" fill="none" stroke="#6a84c0" stroke-width="0.7" stroke-linejoin="round" opacity="1" stroke-dasharray="1.4,0.6"/>
<path d="M320.0,266.1 L320.9,266.1 L321.8,265.6 L322.7,264.9 L323.6,264.0 L324.5,263.5 L325.4,261.3 L326.3,262.1 L327.2,260.7 L328.1,261.0 L329.0,259.3 L329.9,258.8 L330.8,258.2 L331.7,258.0 L332.6,258.3 L333.5,258.2 L334.4,255.7 L335.3,256.7 L336.2,256.7 L337.1,254.6 L338.0,252.9 L338.9,253.4 L339.8,253.6 L340.7,252.2 L341.6,250.5 L342.5,251.8 L343.4,249.4 L344.3,250.7 L345.2,247.1 L346.1,248.3 L347.0,246.5 L347.9,247.7 L348.8,242.3 L349.7,244.2 L350.6,240.9 L351.5,240.0 L352.4,238.2 L353.3,238.3 L354.2,239.2 L355.1,238.4 L356.0,237.4 L356.9,235.3 L357.8,232.7 L358.7,233.6 L359.6,234.0 L360.5,231.7 L361.4,235.1 L362.3,229.5 L363.2,229.8 L364.1,229.3 L365.0,229.7 L365.9,230.0 L366.8,231.8 L367.7,233.2 L368.6,237.0 L369.5,236.2 L370.4,238.1 L371.3,237.5 L372.2,237.9 L373.1,241.5 L374.0,243.9 L374.9,242.0 L375.8,245.7 L376.7,245.6 L377.6,249.6 L378.5,249.9 L379.4,250.2 L380.3,252.2 L381.2,256.6 L382.1,257.2 L383.0,256.8 L383.9,260.4 L384.8,260.2 L385.7,261.3 L386.6,261.3 L387.5,262.7 L388.4,264.0 L389.3,265.3 L390.2,265.4 L391.1,266.0 L392.0,265.8 L392.9,266.2 L393.8,266.2 L394.7,266.3 L395.6,266.4 L396.0,266.4" fill="none" stroke="#b0bcd8" stroke-width="0.7" stroke-linejoin="round" opacity="1"/>
<line x1="277.7" y1="186" x2="277.7" y2="266.4" stroke="#d4d4da" stroke-width="0.8" />
<line x1="277.7" y1="266.4" x2="394" y2="266.4" stroke="#c8c8d0" stroke-width="0.8" />
<text x="275.2" y="186.98" font-size="7.0" text-anchor="end" fill="#1a1a1a" stroke="#1a1a1a" stroke-width="0.28" font-family='"Liberation Serif", serif'>80</text>
<text x="275.2" y="208.18" font-size="7.0" text-anchor="end" fill="#1a1a1a" stroke="#1a1a1a" stroke-width="0.28" font-family='"Liberation Serif", serif'>60</text>
<text x="275.2" y="228.78" font-size="7.0" text-anchor="end" fill="#1a1a1a" stroke="#1a1a1a" stroke-width="0.28" font-family='"Liberation Serif", serif'>40</text>
<text x="275.2" y="248.57999999999998" font-size="7.0" text-anchor="end" fill="#1a1a1a" stroke="#1a1a1a" stroke-width="0.28" font-family='"Liberation Serif", serif'>20</text>
<text x="275.2" y="268.58" font-size="7.0" text-anchor="end" fill="#1a1a1a" stroke="#1a1a1a" stroke-width="0.28" font-family='"Liberation Serif", serif'>0</text>
<text x="273.3" y="275.2" font-size="7.4" fill="#1a1a1a" stroke="#1a1a1a" stroke-width="0.30" font-family='"Liberation Serif", serif'>10<tspan font-size="5.2" dy="-2.8">0</tspan></text>
<text x="301.35" y="275.2" font-size="7.4" fill="#1a1a1a" stroke="#1a1a1a" stroke-width="0.30" font-family='"Liberation Serif", serif'>10<tspan font-size="5.2" dy="-2.8">1</tspan></text>
<text x="329.40000000000003" y="275.2" font-size="7.4" fill="#1a1a1a" stroke="#1a1a1a" stroke-width="0.30" font-family='"Liberation Serif", serif'>10<tspan font-size="5.2" dy="-2.8">2</tspan></text>
<text x="357.45000000000005" y="275.2" font-size="7.4" fill="#1a1a1a" stroke="#1a1a1a" stroke-width="0.30" font-family='"Liberation Serif", serif'>10<tspan font-size="5.2" dy="-2.8">3</tspan></text>
<text x="385.5" y="275.2" font-size="7.4" fill="#1a1a1a" stroke="#1a1a1a" stroke-width="0.30" font-family='"Liberation Serif", serif'>10<tspan font-size="5.2" dy="-2.8">4</tspan></text>
<text x="339.5" y="285.7" font-size="7.6" text-anchor="middle" fill="#1a1a1a" stroke="#1a1a1a" stroke-width="0.30" font-family='"Liberation Serif", serif' transform="translate(339.5,0) scale(0.92,1) translate(-339.5,0)">Fluorescence</text>
<text x="0" y="0" font-size="7.6" text-anchor="middle" fill="#1a1a1a" stroke="#1a1a1a" stroke-width="0.30" font-family='"Liberation Serif", serif' transform="translate(262.4,221.4) rotate(-90)">Counts</text>
<rect x="310.80" y="194.20" width="16.90" height="5.20" fill="#acacb2" stroke="none" stroke-width="0"/>
<line x1="310.8" y1="207.1" x2="327.6" y2="207.1" stroke="#cc1a30" stroke-width="2.1" />
<line x1="310.8" y1="215.8" x2="327.6" y2="215.8" stroke="#182e60" stroke-width="2.1" />
<text x="331.5" y="199.4" font-size="6.35" fill="#000" stroke="#000" stroke-width="0.33" font-family='"Liberation Serif", serif'>CHO-pcDNA3.1</text>
<text x="331.5" y="209.6" font-size="6.5" fill="#000" stroke="#000" stroke-width="0.33" font-family='"Liberation Serif", serif'>CHO-EMR2/125TM7</text>
<text x="331.5" y="218.6" font-size="6.5" fill="#000" stroke="#000" stroke-width="0.33" font-family='"Liberation Serif", serif'>CHO-EMR2/1-5TM7</text>
<rect x="420.4" y="173.4" width="74.8" height="92.6" fill="none" stroke="#c4c4cc" stroke-width="0.8"/>
<text x="417.8" y="268.4" font-size="7.2" text-anchor="end" fill="#000" stroke="#000" stroke-width="0.30" font-family='"Liberation Serif", serif'>0</text>
<text x="417.8" y="252.96666666666667" font-size="7.2" text-anchor="end" fill="#000" stroke="#000" stroke-width="0.30" font-family='"Liberation Serif", serif'>2</text>
<text x="417.8" y="237.53333333333333" font-size="7.2" text-anchor="end" fill="#000" stroke="#000" stroke-width="0.30" font-family='"Liberation Serif", serif'>4</text>
<text x="417.8" y="222.10000000000002" font-size="7.2" text-anchor="end" fill="#000" stroke="#000" stroke-width="0.30" font-family='"Liberation Serif", serif'>6</text>
<text x="417.8" y="206.66666666666669" font-size="7.2" text-anchor="end" fill="#000" stroke="#000" stroke-width="0.30" font-family='"Liberation Serif", serif'>8</text>
<text x="417.8" y="191.23333333333332" font-size="7.2" text-anchor="end" fill="#000" stroke="#000" stroke-width="0.30" font-family='"Liberation Serif", serif'>10</text>
<text x="417.8" y="175.80000000000004" font-size="7.2" text-anchor="end" fill="#000" stroke="#000" stroke-width="0.30" font-family='"Liberation Serif", serif'>12</text>
<rect x="427.60" y="202.72" width="10.40" height="63.28" fill="#ffffff" stroke="#808088" stroke-width="0.8"/>
<line x1="427.2" y1="202.72333333333333" x2="438.4" y2="202.72333333333333" stroke="#333" stroke-width="1.2" />
<line x1="432.6" y1="202.72333333333333" x2="432.6" y2="191.92000000000002" stroke="#444" stroke-width="0.8" />
<rect x="452.60" y="248.25" width="10.40" height="17.75" fill="#c4c4d6" stroke="#8a8a96" stroke-width="0.6"/>
<line x1="457.9" y1="248.25166666666667" x2="457.9" y2="242.85" stroke="#666" stroke-width="0.8" />
<rect x="478.20" y="252.88" width="9.50" height="13.12" fill="#1c1c24" stroke="#1c1c24" stroke-width="0.5"/>
<line x1="482.9" y1="252.88166666666666" x2="482.9" y2="249.02333333333334" stroke="#555" stroke-width="0.8" />
<text x="0" y="0" font-size="7.33" text-anchor="middle" fill="#000" stroke="#000" stroke-width="0.30" font-family='"Liberation Serif", serif' transform="translate(407.9,219.5) rotate(-90)">No.&#160;&#160;of cell rosette/field</text>
<text x="0" y="0" font-size="6.5" fill="#000" stroke="#000" stroke-width="0.32" font-family='"Liberation Serif", serif' transform="translate(429.6,274.5) rotate(35)">CHO-EMR2/1-5TM7</text>
<text x="0" y="0" font-size="6.5" fill="#000" stroke="#000" stroke-width="0.32" font-family='"Liberation Serif", serif' transform="translate(454.3,274.5) rotate(35)">CHO-EMR2/125TM7</text>
<text x="0" y="0" font-size="6.5" fill="#000" stroke="#000" stroke-width="0.32" font-family='"Liberation Serif", serif' transform="translate(479.6,275) rotate(35)">CHO-pcDNA3.1</text>
</g>
</svg>
</body></html>
